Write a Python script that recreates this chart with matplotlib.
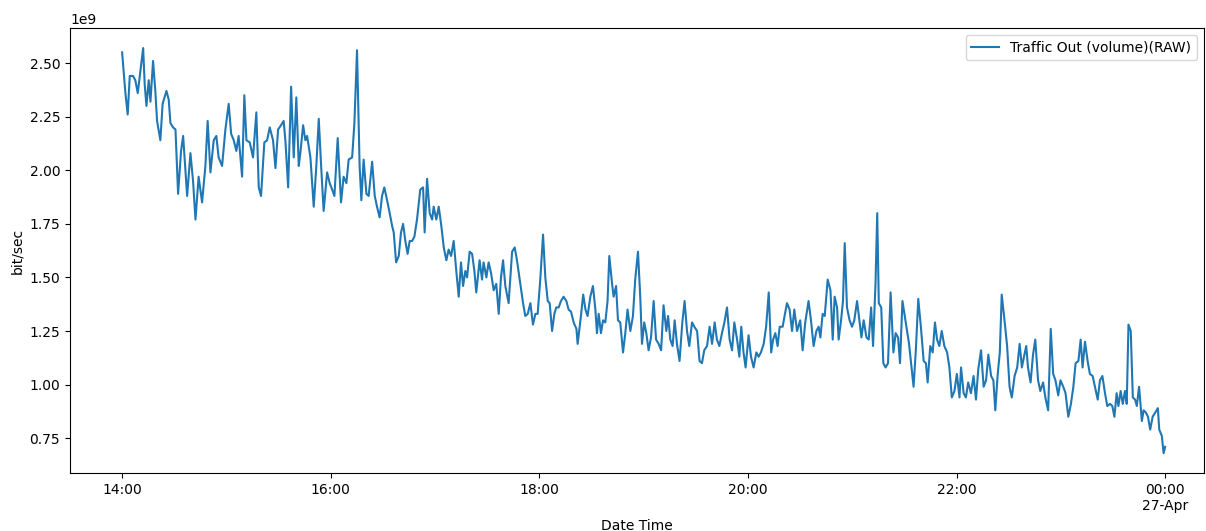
import numpy as np
import pandas as pd
import matplotlib
matplotlib.use("Agg")
import matplotlib.pyplot as plt
import matplotlib.dates as mdates
from matplotlib.ticker import FuncFormatter, NullLocator

# minutes after 14:00 on 26-Apr, and traffic in Gbit/s
minutes = [
    0, 1.9, 3.2, 4.4, 6.3, 7.6, 9.0, 10.5, 12.1, 13.0, 14.0, 15.3, 16.3, 17.8, 19.1, 20.1,
    22.0, 23.3, 25.5, 26.8, 27.8, 29.3, 30.7, 32.2, 33.9, 35.1, 37.4, 39.3, 40.8, 42.2, 44.0,
    46.0, 47.9, 49.2, 50.8, 52.7, 54.2, 55.5, 57.5, 59.4, 61.3, 62.7, 64.2, 65.7, 67.0, 69.0,
    70.3, 71.5, 73.4, 75.3, 77.2, 78.6, 79.9, 81.8, 83.4, 84.9, 86.8, 88.2, 89.7, 91.4, 92.9,
    93.9, 95.5,
    97.2, 98.7, 100.2, 101.6, 102.5, 104.1, 105.4, 106.4, 108.3, 110.2, 111.7, 113.1, 114.4,
    115.9, 117.9, 119.4, 120.8, 122.1, 124.0, 125.9, 127.4, 129.0, 130.3, 132.3, 133.6, 135.1,
    136.6, 137.6, 138.9, 140.5, 141.8, 143.8, 145.3, 146.6, 148.1, 149.5, 150.8, 152.4, 153.9,
    155.3, 156.2, 157.6, 159.1, 160.4, 161.6, 162.9, 164.2, 165.4, 166.8, 168.1, 169.6, 171.5,
    173.1, 174.0, 175.4, 176.9, 178.3, 179.2, 180.7, 182.1, 183.6, 185.0, 186.5, 187.8, 189.2,
    190.7,
    192.2, 193.6, 194.9, 196.1, 197.4, 198.4, 199.9, 201.3, 202.6, 203.7, 205.6, 207.0, 207.9,
    209.5, 210.8, 212.2, 213.7, 215.2, 216.6, 217.9, 219.1, 220.4, 222.3, 224.3, 225.8, 227.1,
    229.0, 230.6, 231.9, 233.3, 234.8, 236.3, 237.7, 239.0, 240.5, 242.1, 243.4, 244.8, 245.9,
    247.3, 248.6, 249.7, 251.1, 252.4, 253.9, 255.5, 256.8, 258.2, 259.7, 261.3, 262.0, 263.6,
    265.2, 266.5, 267.7, 269.3, 270.8, 272.2, 273.1, 274.1, 275.4, 276.6, 277.9, 279.2, 280.2,
    281.8, 282.7, 284.1, 285.2,
    286.5, 288.1, 289.4, 290.7, 292.3, 293.8, 295.1, 296.7, 298.0, 299.0, 300.3, 301.5, 302.8,
    304.2, 305.7, 307.1, 308.6, 310.0, 311.4, 313.0, 314.0, 315.3, 316.6, 317.8, 319.1, 320.6,
    322.2, 323.5, 324.9, 326.2, 327.8, 329.1, 330.7, 332.1, 333.5, 334.8, 336.4, 337.9, 339.3,
    340.8, 342.1, 343.5, 345.0, 346.4, 347.9, 349.4, 350.8, 352.1, 353.7, 355.0, 356.1, 357.4,
    358.6, 360.3, 361.7, 363.2, 364.8, 366.1, 367.4, 369.0, 370.4, 371.9, 373.3, 374.4, 375.7,
    377.0, 378.2, 379.9, 381.0, 382.4, 383.9, 385.3, 386.6, 388.2, 390.0,
    391.4, 392.9, 394.8, 396.2, 397.7, 399.3, 400.6, 401.6, 402.9, 404.1, 405.8, 407.4, 408.7,
    409.8, 411.2, 412.1, 413.5, 414.6, 415.6, 416.9, 418.4, 419.8, 421.1, 422.7, 424.0, 425.2,
    426.5, 428.1, 429.4, 430.8, 431.9, 433.3, 434.3, 435.2, 436.6, 437.8, 439.1, 440.5, 442.0,
    443.6, 444.9, 446.3, 447.4, 448.8, 450.7, 452.6, 454.0, 455.2, 456.5, 457.9, 459.4, 461.0,
    462.3, 463.3, 464.8, 466.2, 467.5, 468.7, 470.0, 471.4, 472.9, 474.5, 475.8, 477.2, 478.7,
    480.1, 481.6,
    482.5, 484.0, 485.3, 486.6, 488.2, 489.7, 491.1, 492.4, 494.0, 495.5, 496.9, 498.2, 499.8,
    501.1, 502.2, 503.6, 504.8, 505.9, 507.5, 509.0, 510.4, 511.7, 513.3, 514.8, 516.2, 517.5,
    518.7, 520.0, 521.0, 522.5, 523.9, 525.2, 526.8, 528.1, 529.7, 531.0, 532.6, 534.1, 535.5,
    536.8, 538.4, 539.7, 541.3, 542.6, 544.2, 545.7, 547.1, 548.4, 550.0, 551.3, 552.4, 553.8,
    555.3, 556.6, 558.2, 559.5, 561.1, 562.4, 563.8, 565.3, 566.6, 568.2, 569.5, 570.7, 572.0,
    573.0, 574.3, 575.5, 576.8, 577.8, 578.8, 580.1, 581.3, 582.6, 583.6, 584.9, 586.5, 587.5,
    588.8, 590.0, 591.3, 592.7, 594.2, 595.7, 596.5, 598.0, 599.0, 599.9,
]

traffic_gbps = [
    2.55, 2.36, 2.26, 2.44, 2.44, 2.42, 2.36, 2.46, 2.57, 2.40, 2.30, 2.42, 2.32, 2.51, 2.37, 2.23,
    2.14, 2.31, 2.37, 2.33, 2.22, 2.20, 2.19, 1.89, 2.09, 2.16, 1.88, 2.08, 1.95, 1.77, 1.97,
    1.85, 2.02, 2.23, 1.99, 2.14, 2.16, 2.06, 2.02, 2.19, 2.31, 2.17, 2.14, 2.09, 2.16, 1.97,
    2.35, 2.14, 2.13, 2.06, 2.27, 1.92, 1.88, 2.13, 2.14, 2.20, 2.14, 2.01, 2.19, 2.21, 2.23,
    2.14, 1.92,
    2.39, 2.06, 2.34, 2.02, 2.08, 2.21, 2.14, 2.16, 2.06, 1.83, 2.02, 2.24, 2.03,
    1.81, 1.99, 1.94, 1.91, 1.88, 2.15, 1.85, 1.97, 1.94, 2.05, 2.06, 2.22, 2.56,
    2.02, 1.86, 2.05, 1.89, 1.88, 2.04, 1.88, 1.83, 1.78, 1.88, 1.92, 1.86, 1.80,
    1.74, 1.71, 1.57, 1.60, 1.71, 1.75, 1.67, 1.61, 1.67, 1.67, 1.69, 1.77, 1.91,
    1.92, 1.71, 1.96, 1.80, 1.77, 1.83, 1.77, 1.83, 1.74, 1.64, 1.58, 1.63, 1.60,
    1.67,
    1.53, 1.41, 1.57, 1.46, 1.53, 1.50, 1.62, 1.61, 1.53, 1.43, 1.58, 1.49, 1.57,
    1.50, 1.57, 1.52, 1.44, 1.47, 1.33, 1.50, 1.58, 1.46, 1.38, 1.62, 1.64, 1.58,
    1.47, 1.38, 1.32, 1.33, 1.38, 1.28, 1.33, 1.33, 1.49, 1.70, 1.50, 1.39, 1.38,
    1.25, 1.33, 1.36, 1.36, 1.39, 1.41, 1.39, 1.35, 1.34, 1.29, 1.26, 1.19, 1.30,
    1.42, 1.35, 1.32, 1.41, 1.46, 1.35, 1.24, 1.33, 1.24, 1.30, 1.29, 1.39, 1.60,
    1.47, 1.41, 1.46, 1.30,
    1.29, 1.15, 1.24, 1.35, 1.25, 1.32, 1.49, 1.62, 1.41, 1.19, 1.29, 1.24, 1.16,
    1.22, 1.39, 1.21, 1.19, 1.16, 1.37, 1.25, 1.32, 1.21, 1.18, 1.30, 1.19, 1.11,
    1.29, 1.39, 1.25, 1.18, 1.29, 1.27, 1.25, 1.11, 1.10, 1.16, 1.18, 1.27, 1.19,
    1.29, 1.21, 1.18, 1.24, 1.29, 1.36, 1.21, 1.16, 1.29, 1.21, 1.13, 1.27, 1.15,
    1.08, 1.23, 1.13, 1.08, 1.15, 1.13, 1.15, 1.19, 1.27, 1.43, 1.15, 1.21, 1.24,
    1.18, 1.27, 1.27, 1.32, 1.38, 1.35, 1.25, 1.35, 1.25, 1.30,
    1.16, 1.29, 1.39, 1.30, 1.18, 1.25, 1.27, 1.22, 1.33, 1.32, 1.49, 1.44, 1.21,
    1.41, 1.36, 1.21, 1.30, 1.39, 1.66, 1.36, 1.30, 1.27, 1.30, 1.39, 1.30, 1.22,
    1.30, 1.22, 1.21, 1.36, 1.18, 1.47, 1.80, 1.38, 1.36, 1.10, 1.08, 1.10, 1.43,
    1.15, 1.24, 1.22, 1.10, 1.39, 1.29, 1.19, 1.08, 0.99, 1.16, 1.40, 1.27, 1.11,
    1.10, 1.01, 1.18, 1.15, 1.29, 1.21, 1.18, 1.25, 1.18, 1.15, 1.08, 0.94, 0.97,
    1.05, 0.94,
    1.08, 0.96, 0.94, 1.01, 0.96, 1.04, 0.93, 1.07, 1.16, 0.99, 1.02, 1.14, 1.04,
    1.02, 0.88, 1.05, 1.15, 1.42, 1.30, 1.18, 0.99, 0.94, 1.04, 1.08, 1.19, 1.08,
    1.13, 1.18, 1.08, 1.01, 1.14, 1.21, 1.02, 0.97, 1.01, 0.94, 0.88, 1.26, 1.05,
    1.02, 0.95, 1.02, 0.99, 0.96, 0.85, 0.91, 0.99, 1.10, 1.11, 1.21, 1.08, 1.20,
    1.11, 1.05, 1.04, 0.99, 0.93, 1.02, 1.04, 0.96, 0.90, 0.91, 0.90, 0.85, 0.96,
    0.90, 0.97, 0.91, 0.97, 0.91, 1.28, 1.25, 0.94, 0.93, 0.90, 0.99, 0.83, 0.88,
    0.87, 0.85, 0.79, 0.85, 0.87, 0.89, 0.79, 0.76, 0.68, 0.71,
]

start = pd.Timestamp("2018-04-26 14:00")
times = start + pd.to_timedelta(minutes, unit="min")
values = np.array(traffic_gbps) * 1e9

fig = plt.figure(figsize=(12.06, 5.31), dpi=100)
ax = fig.add_axes([0.058, 0.109, 0.94, 0.838])

ax.plot(times, values, color="#1f77b4", linewidth=1.5, label="Traffic Out (volume)(RAW)")

ax.set_xlim(pd.Timestamp("2018-04-26 13:30"), pd.Timestamp("2018-04-27 00:22"))
ax.set_ylim(0.587e9, 2.663e9)
ax.set_yticks(np.arange(0.75, 2.51, 0.25) * 1e9)

ax.xaxis.set_major_locator(mdates.HourLocator(byhour=range(0, 24, 2)))
ax.xaxis.set_minor_locator(NullLocator())


def fmt_time(x, pos=None):
    d = mdates.num2date(x)
    if d.hour == 0 and d.minute == 0:
        return d.strftime("%H:%M") + "\n" + d.strftime("%d-%b")
    return d.strftime("%H:%M")


ax.xaxis.set_major_formatter(FuncFormatter(fmt_time))
for lbl in ax.get_xticklabels():
    lbl.set_horizontalalignment("center")

ax.set_xlabel("Date Time")
ax.set_ylabel("bit/sec")
ax.legend(loc="upper right")

fig.savefig("out.png", dpi=100)
